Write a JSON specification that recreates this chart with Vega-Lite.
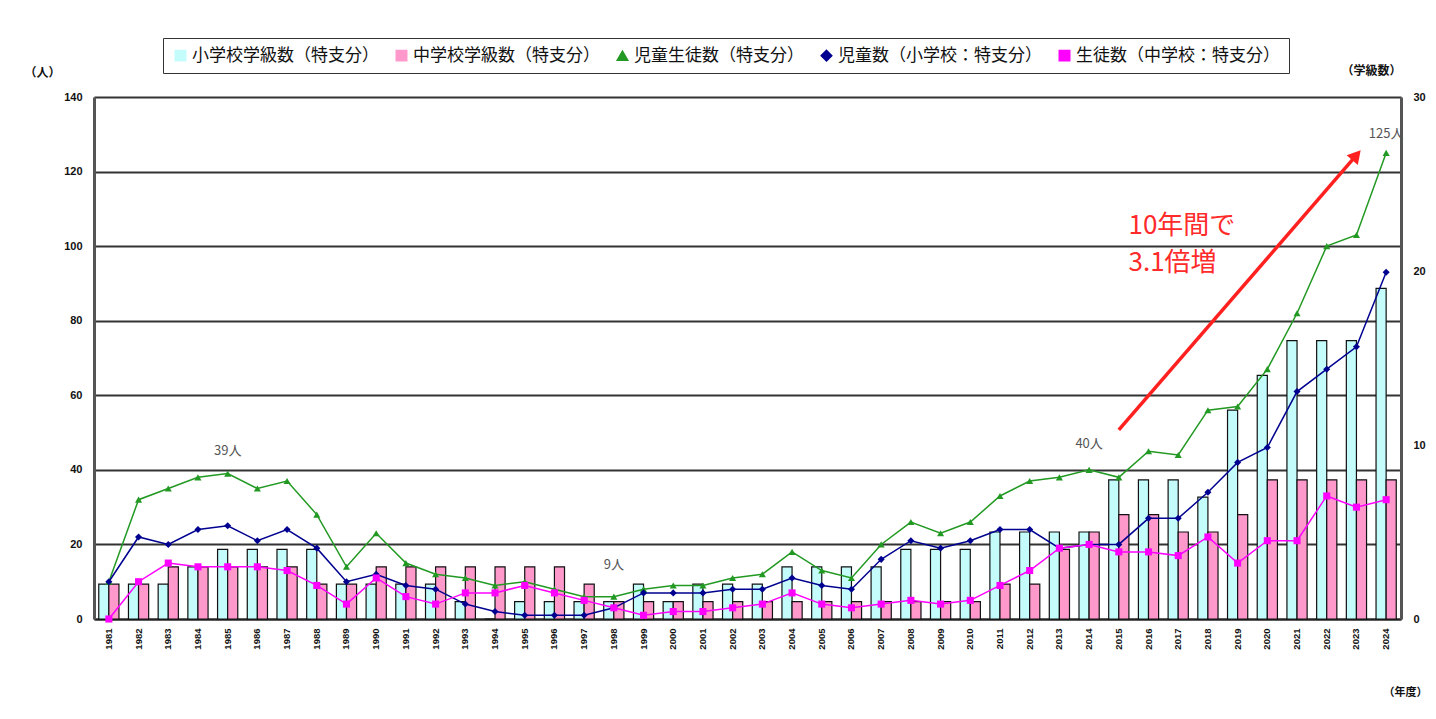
{
  "$schema": "https://vega.github.io/schema/vega-lite/v6.json",
  "width": 1307,
  "height": 522,
  "autosize": {"type": "none"},
  "padding": {"left": 94, "top": 97, "right": 35, "bottom": 100},
  "background": "white",
  "config": {
    "view": {"stroke": null},
    "font": "Noto Sans CJK JP",
    "legend": {
      "title": null, "orient": "none", "legendX": 69, "legendY": -59,
      "direction": "horizontal", "columns": 5, "columnPadding": 14,
      "padding": 9, "strokeColor": "#333333",
      "labelFontSize": 17, "labelFont": "Noto Sans CJK JP", "labelColor": "#111111",
      "labelOffset": 3, "symbolSize": 110, "labelLimit": 400
    }
  },
  "datasets": {
    "main": [
      {"year": 1981, "ec": 2, "jc": 2, "tot": 10, "el": 10, "jh": 0},
      {"year": 1982, "ec": 2, "jc": 2, "tot": 32, "el": 22, "jh": 10},
      {"year": 1983, "ec": 2, "jc": 3, "tot": 35, "el": 20, "jh": 15},
      {"year": 1984, "ec": 3, "jc": 3, "tot": 38, "el": 24, "jh": 14},
      {"year": 1985, "ec": 4, "jc": 3, "tot": 39, "el": 25, "jh": 14},
      {"year": 1986, "ec": 4, "jc": 3, "tot": 35, "el": 21, "jh": 14},
      {"year": 1987, "ec": 4, "jc": 3, "tot": 37, "el": 24, "jh": 13},
      {"year": 1988, "ec": 4, "jc": 2, "tot": 28, "el": 19, "jh": 9},
      {"year": 1989, "ec": 2, "jc": 2, "tot": 14, "el": 10, "jh": 4},
      {"year": 1990, "ec": 2, "jc": 3, "tot": 23, "el": 12, "jh": 11},
      {"year": 1991, "ec": 2, "jc": 3, "tot": 15, "el": 9, "jh": 6},
      {"year": 1992, "ec": 2, "jc": 3, "tot": 12, "el": 8, "jh": 4},
      {"year": 1993, "ec": 1, "jc": 3, "tot": 11, "el": 4, "jh": 7},
      {"year": 1994, "ec": 0, "jc": 3, "tot": 9, "el": 2, "jh": 7},
      {"year": 1995, "ec": 1, "jc": 3, "tot": 10, "el": 1, "jh": 9},
      {"year": 1996, "ec": 1, "jc": 3, "tot": 8, "el": 1, "jh": 7},
      {"year": 1997, "ec": 1, "jc": 2, "tot": 6, "el": 1, "jh": 5},
      {"year": 1998, "ec": 1, "jc": 1, "tot": 6, "el": 3, "jh": 3},
      {"year": 1999, "ec": 2, "jc": 1, "tot": 8, "el": 7, "jh": 1},
      {"year": 2000, "ec": 1, "jc": 1, "tot": 9, "el": 7, "jh": 2},
      {"year": 2001, "ec": 2, "jc": 1, "tot": 9, "el": 7, "jh": 2},
      {"year": 2002, "ec": 2, "jc": 1, "tot": 11, "el": 8, "jh": 3},
      {"year": 2003, "ec": 2, "jc": 1, "tot": 12, "el": 8, "jh": 4},
      {"year": 2004, "ec": 3, "jc": 1, "tot": 18, "el": 11, "jh": 7},
      {"year": 2005, "ec": 3, "jc": 1, "tot": 13, "el": 9, "jh": 4},
      {"year": 2006, "ec": 3, "jc": 1, "tot": 11, "el": 8, "jh": 3},
      {"year": 2007, "ec": 3, "jc": 1, "tot": 20, "el": 16, "jh": 4},
      {"year": 2008, "ec": 4, "jc": 1, "tot": 26, "el": 21, "jh": 5},
      {"year": 2009, "ec": 4, "jc": 1, "tot": 23, "el": 19, "jh": 4},
      {"year": 2010, "ec": 4, "jc": 1, "tot": 26, "el": 21, "jh": 5},
      {"year": 2011, "ec": 5, "jc": 2, "tot": 33, "el": 24, "jh": 9},
      {"year": 2012, "ec": 5, "jc": 2, "tot": 37, "el": 24, "jh": 13},
      {"year": 2013, "ec": 5, "jc": 4, "tot": 38, "el": 19, "jh": 19},
      {"year": 2014, "ec": 5, "jc": 5, "tot": 40, "el": 20, "jh": 20},
      {"year": 2015, "ec": 8, "jc": 6, "tot": 38, "el": 20, "jh": 18},
      {"year": 2016, "ec": 8, "jc": 6, "tot": 45, "el": 27, "jh": 18},
      {"year": 2017, "ec": 8, "jc": 5, "tot": 44, "el": 27, "jh": 17},
      {"year": 2018, "ec": 7, "jc": 5, "tot": 56, "el": 34, "jh": 22},
      {"year": 2019, "ec": 12, "jc": 6, "tot": 57, "el": 42, "jh": 15},
      {"year": 2020, "ec": 14, "jc": 8, "tot": 67, "el": 46, "jh": 21},
      {"year": 2021, "ec": 16, "jc": 8, "tot": 82, "el": 61, "jh": 21},
      {"year": 2022, "ec": 16, "jc": 8, "tot": 100, "el": 67, "jh": 33},
      {"year": 2023, "ec": 16, "jc": 8, "tot": 103, "el": 73, "jh": 30},
      {"year": 2024, "ec": 19, "jc": 8, "tot": 125, "el": 93, "jh": 32}
    ],
    "notes": [
      {"year": 1985, "value": 45, "label": "39人"},
      {"year": 1998, "value": 14.5, "label": "9人"},
      {"year": 2014, "value": 47, "label": "40人"},
      {"year": 2024, "value": 130, "label": "125人"}
    ],
    "arrow": [
      {"year": 2015, "value": 50.7, "year2": 2023, "value2": 124.4}
    ],
    "red": [
      {"year": 2016, "value": 105.5, "label": "10年間で"},
      {"year": 2016, "value": 95.5, "label": "3.1倍増"}
    ]
  },
  "resolve": {"scale": {"y": "independent"}},
  "layer": [
    {
      "data": {"name": "main"},
      "transform": [{"fold": ["ec", "jc"], "as": ["series", "value"]}],
      "mark": {"type": "bar", "stroke": "#111111", "strokeWidth": 1.2},
      "encoding": {
        "x": {
          "field": "year", "type": "ordinal", "title": "（年度）",
          "scale": {"paddingInner": 0.32, "paddingOuter": 0.16},
          "axis": {
            "labelAngle": 270, "ticks": false, "labelPadding": 9,
            "labelFontSize": 9.5, "labelFontWeight": "bold", "labelFont": "Liberation Sans",
            "labelColor": "#111111",
            "domainColor": "#222222", "domainWidth": 2,
            "titleX": 1311, "titleY": 73, "titleFontSize": 11, "titleFontWeight": "bold",
            "titleAlign": "center", "titleBaseline": "middle", "titleColor": "#111111"
          }
        },
        "xOffset": {"field": "series", "scale": {"domain": ["ec", "jc"]}},
        "y": {
          "field": "value", "type": "quantitative", "title": "（学級数）",
          "scale": {"domain": [0, 30]},
          "axis": {
            "orient": "right", "values": [0, 10, 20, 30], "grid": false,
            "domainColor": "#555555", "domainWidth": 3, "ticks": false, "labelPadding": 12,
            "labelFontSize": 11, "labelFontWeight": "bold", "labelFont": "Liberation Sans",
            "labelColor": "#111111",
            "titleAngle": 0, "titleX": -30, "titleY": -27, "titleFontSize": 12,
            "titleFontWeight": "bold", "titleAlign": "center", "titleBaseline": "middle",
            "titleColor": "#111111"
          }
        },
        "color": {
          "field": "series",
          "scale": {"domain": ["ec", "jc", "tot", "el", "jh"], "range": ["#c4fcfc", "#ff99cc", "#229922", "#000090", "#ff00ff"]},
          "legend": {
            "labelExpr": "datum.value === 'ec' ? '小学校学級数（特支分）' : datum.value === 'jc' ? '中学校学級数（特支分）' : datum.value === 'tot' ? '児童生徒数（特支分）' : datum.value === 'el' ? '児童数（小学校：特支分）' : '生徒数（中学校：特支分）'"
          }
        }
      }
    },
    {
      "layer": [
        {
          "data": {"name": "main"},
          "transform": [{"fold": ["tot", "el", "jh"], "as": ["series", "value"]}],
          "mark": {"type": "line", "strokeWidth": 1.5},
          "encoding": {
            "x": {"field": "year", "type": "ordinal", "title": "（年度）"},
            "y": {
              "field": "value", "type": "quantitative", "title": "（人）",
              "scale": {"domain": [0, 140]},
              "axis": {
                "orient": "left", "values": [0, 20, 40, 60, 80, 100, 120, 140], "grid": true,
                "gridColor": "#333333", "gridWidth": 1.8,
                "domainColor": "#555555", "domainWidth": 3, "ticks": false, "labelPadding": 12,
                "labelFontSize": 11, "labelFontWeight": "bold", "labelFont": "Liberation Sans",
                "labelColor": "#111111",
                "titleAngle": 0, "titleX": -52, "titleY": -25, "titleFontSize": 12,
                "titleFontWeight": "bold", "titleAlign": "center", "titleBaseline": "middle",
                "titleColor": "#111111"
              }
            },
            "color": {"field": "series"}
          }
        },
        {
          "data": {"name": "main"},
          "transform": [{"fold": ["tot", "el", "jh"], "as": ["series", "value"]}],
          "mark": {"type": "point", "filled": true, "opacity": 1, "size": 50},
          "encoding": {
            "x": {"field": "year", "type": "ordinal", "title": "（年度）"},
            "y": {"field": "value", "type": "quantitative", "title": "（人）"},
            "color": {"field": "series"},
            "shape": {
              "field": "series",
              "scale": {"domain": ["ec", "jc", "tot", "el", "jh"], "range": ["square", "square", "triangle-up", "diamond", "square"]},
              "legend": {
                "labelExpr": "datum.value === 'ec' ? '小学校学級数（特支分）' : datum.value === 'jc' ? '中学校学級数（特支分）' : datum.value === 'tot' ? '児童生徒数（特支分）' : datum.value === 'el' ? '児童数（小学校：特支分）' : '生徒数（中学校：特支分）'"
              }
            }
          }
        },
        {
          "data": {"name": "arrow"},
          "mark": {"type": "rule", "color": "#ff2020", "strokeWidth": 3.5},
          "encoding": {
            "x": {"field": "year", "type": "ordinal", "title": "（年度）"},
            "x2": {"field": "year2"},
            "y": {"field": "value", "type": "quantitative", "title": "（人）"},
            "y2": {"field": "value2"}
          }
        },
        {
          "data": {"name": "arrow"},
          "mark": {"type": "point", "shape": "triangle-up", "filled": true, "color": "#ff2020", "opacity": 1, "size": 220, "angle": 41},
          "encoding": {
            "x": {"field": "year2", "type": "ordinal", "title": "（年度）"},
            "y": {"field": "value2", "type": "quantitative", "title": "（人）"}
          }
        },
        {
          "data": {"name": "notes"},
          "mark": {"type": "text", "fontSize": 13, "color": "#555555", "baseline": "middle", "align": "center"},
          "encoding": {
            "x": {"field": "year", "type": "ordinal", "title": "（年度）"},
            "y": {"field": "value", "type": "quantitative", "title": "（人）"},
            "text": {"field": "label"}
          }
        },
        {
          "data": {"name": "red"},
          "mark": {"type": "text", "fontSize": 26, "color": "#ff2a2a", "baseline": "middle", "align": "left", "dx": -20},
          "encoding": {
            "x": {"field": "year", "type": "ordinal", "title": "（年度）"},
            "y": {"field": "value", "type": "quantitative", "title": "（人）"},
            "text": {"field": "label"}
          }
        }
      ]
    }
  ]
}
